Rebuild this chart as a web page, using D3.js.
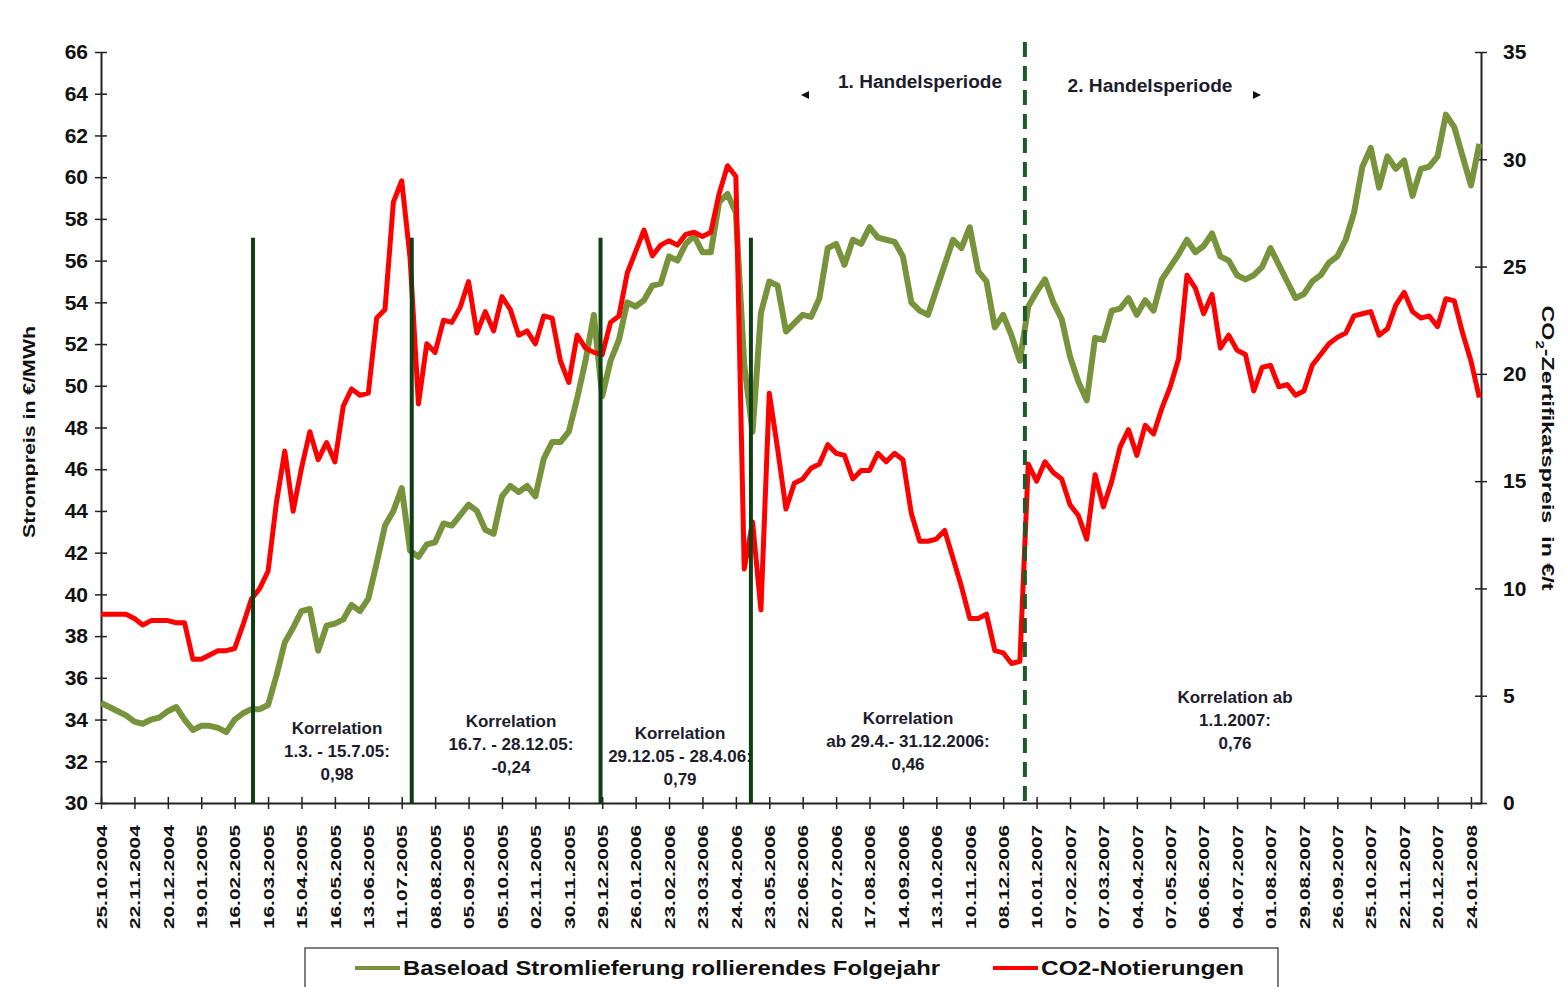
<!DOCTYPE html>
<html>
<head>
<meta charset="utf-8">
<script src="https://cdn.jsdelivr.net/npm/d3@7"></script>
<style>
  body { margin: 0; background: #fff; }
  svg { font-family: "Liberation Sans", Arial, sans-serif; }
</style>
</head>
<body>
<div id="chart"></div>
<script>
// x axis: one label every 20 trading days
const dateLabels = ["25.10.2004","22.11.2004","20.12.2004","19.01.2005","16.02.2005","16.03.2005","15.04.2005","16.05.2005","13.06.2005","11.07.2005","08.08.2005","05.09.2005","05.10.2005","02.11.2005","30.11.2005","29.12.2005","26.01.2006","23.02.2006","23.03.2006","24.04.2006","23.05.2006","22.06.2006","20.07.2006","17.08.2006","14.09.2006","13.10.2006","10.11.2006","08.12.2006","10.01.2007","07.02.2007","07.03.2007","04.04.2007","07.05.2007","06.06.2007","04.07.2007","01.08.2007","29.08.2007","26.09.2007","25.10.2007","22.11.2007","20.12.2007","24.01.2008"];

// weekly readings (every 5 trading days), €/MWh
const baseload = [
  34.8,34.6,34.4,34.2, 33.9,33.8,34.0,34.1, 34.4,34.6,34.0,33.5, 33.7,33.7,33.6,33.4,
  34.0,34.3,34.5,34.5, 34.7,36.1,37.7,38.4, 39.2,39.3,37.3,38.5, 38.6,38.8,39.5,39.2,
  39.8,41.5,43.3,44.0, 45.1,42.1,41.8,42.4, 42.5,43.4,43.3,43.8, 44.3,44.0,43.1,42.9,
  44.7,45.2,44.9,45.2, 44.7,46.5,47.3,47.3, 47.8,49.4,51.2,53.4, 49.5,51.2,52.2,54.0,
  53.8,54.1,54.8,54.9, 56.2,56.0,56.8,57.2, 56.4,56.4,58.8,59.2, 58.3,51.0,47.8,53.5,
  55.0,54.8,52.6,53.0, 53.4,53.3,54.2,56.6, 56.8,55.8,57.0,56.8, 57.6,57.1,57.0,56.9,
  56.2,54.0,53.6,53.4, 54.6,55.8,57.0,56.6, 57.6,55.5,55.0,52.8, 53.4,52.4,51.2,53.8,
  54.5,55.1,54.0,53.2, 51.4,50.2,49.3,52.3, 52.2,53.6,53.7,54.2, 53.4,54.1,53.6,55.1,
  55.7,56.3,57.0,56.4, 56.7,57.3,56.2,56.0, 55.3,55.1,55.3,55.7, 56.6,55.8,55.0,54.2,
  54.4,55.0,55.3,55.9, 56.2,57.0,58.3,60.5, 61.4,59.5,61.0,60.4, 60.8,59.1,60.4,60.5,
  61.0,63.0,62.4,61.0, 59.6,61.6
];

// weekly readings, €/t
const co2 = [
  8.8,8.8,8.8,8.8, 8.6,8.3,8.5,8.5, 8.5,8.4,8.4,6.7, 6.7,6.9,7.1,7.1,
  7.2,8.3,9.5,10.0, 10.8,14.0,16.4,13.6, 15.6,17.3,16.0,16.8, 15.9,18.5,19.3,19.0,
  19.1,22.6,23.0,28.0, 29.0,25.4,18.6,21.4, 21.0,22.5,22.4,23.1, 24.3,21.9,22.9,22.0,
  23.6,23.0,21.8,22.0, 21.4,22.7,22.6,20.6, 19.6,21.8,21.2,21.0, 20.9,22.4,22.7,24.7,
  25.7,26.7,25.5,26.0, 26.2,26.0,26.5,26.6, 26.4,26.6,28.4,29.7, 29.2,10.9,13.1,9.0,
  19.1,16.5,13.7,14.9, 15.1,15.6,15.8,16.7, 16.3,16.2,15.1,15.5, 15.5,16.3,15.9,16.3,
  16.0,13.5,12.2,12.2, 12.3,12.7,11.4,10.1, 8.6,8.6,8.8,7.1, 7.0,6.5,6.6,15.8,
  15.0,15.9,15.4,15.1, 13.9,13.4,12.3,15.3, 13.8,15.0,16.6,17.4, 16.2,17.6,17.2,18.4,
  19.4,20.7,24.6,24.0, 22.8,23.7,21.2,21.8, 21.1,20.9,19.2,20.3, 20.4,19.4,19.5,19.0,
  19.2,20.4,20.9,21.4, 21.7,21.9,22.7,22.8, 22.9,21.8,22.1,23.2, 23.8,22.9,22.6,22.7,
  22.2,23.5,23.4,21.9, 20.6,18.9
];

// trading-day positions of the correlation windows and the period change
const correlationStarts = [91, 186, 299, 389];
const periodBreak = 553;

const correlationNotes = [
  ["Korrelation", "1.3. - 15.7.05:", "0,98"],
  ["Korrelation", "16.7. - 28.12.05:", "-0,24"],
  ["Korrelation", "29.12.05 - 28.4.06:", "0,79"],
  ["Korrelation", "ab 29.4.- 31.12.2006:", "0,46"],
  ["Korrelation ab", "1.1.2007:", "0,76"]
];

const seriesNames = ["Baseload Stromlieferung rollierendes Folgejahr", "CO2-Notierungen"];

const width = 1567, height = 987;
const green = "#77933c", red = "#ff0000", darkGreen = "#0f3d14";

const svg = d3.select("#chart").append("svg")
  .attr("width", width)
  .attr("height", height);

svg.append("rect").attr("width", width).attr("height", height).attr("fill", "#fff");

const x = d3.scaleLinear().domain([0, 826]).range([101, 1481]);
const yLeft = d3.scaleLinear().domain([30, 66]).range([803, 52]);
const yRight = d3.scaleLinear().domain([0, 35]).range([803, 52]);

// axes
const leftAxis = svg.append("g")
  .attr("transform", "translate(101,0)")
  .call(d3.axisLeft(yLeft).tickValues(d3.range(30, 67, 2)).tickSize(6).tickSizeOuter(0).tickPadding(7));
leftAxis.selectAll(".tick line").attr("x1", 6);

const rightAxis = svg.append("g")
  .attr("transform", "translate(1481,0)")
  .call(d3.axisRight(yRight).tickValues(d3.range(0, 36, 5)).tickSize(6).tickSizeOuter(0).tickPadding(16));
rightAxis.selectAll(".tick line").attr("x1", -6);

const bottomAxis = svg.append("g")
  .attr("transform", "translate(0,803)")
  .call(d3.axisBottom(x).tickValues(d3.range(0, 821, 20))
    .tickFormat((d, i) => dateLabels[i]).tickSize(6).tickSizeOuter(0));
bottomAxis.selectAll(".tick line").attr("y1", -6);
bottomAxis.selectAll(".tick text")
  .attr("transform", "rotate(-90)")
  .attr("text-anchor", "end")
  .attr("x", -22).attr("y", 0).attr("dy", "0.35em")
  .attr("textLength", 104).attr("lengthAdjust", "spacingAndGlyphs")
  .style("font-size", "15px");

[leftAxis, rightAxis, bottomAxis].forEach(g => {
  g.selectAll(".domain").attr("stroke", "#222").attr("stroke-width", 2);
  g.selectAll(".tick line").attr("stroke", "#222").attr("stroke-width", 1.5);
  g.selectAll(".tick text").attr("fill", "#111").style("font-weight", "bold");
});
leftAxis.selectAll(".tick text").style("font-size", "21px");
rightAxis.selectAll(".tick text").style("font-size", "21px");

// axis titles
svg.append("text")
  .attr("transform", "translate(35,432) rotate(-90)")
  .attr("text-anchor", "middle")
  .attr("textLength", 212).attr("lengthAdjust", "spacingAndGlyphs")
  .style("font-size", "16px").style("font-weight", "bold").attr("fill", "#111")
  .text("Strompreis in €/MWh");

const rTitle = svg.append("text")
  .attr("transform", "translate(1542,448) rotate(90)")
  .attr("text-anchor", "middle")
  .attr("textLength", 285).attr("lengthAdjust", "spacingAndGlyphs")
  .style("font-size", "17px").style("font-weight", "bold").attr("fill", "#111");
rTitle.append("tspan").text("CO");
rTitle.append("tspan").attr("baseline-shift", "sub").style("font-size", "11px").text("2");
rTitle.append("tspan").text("-Zertifikatspreis\u00a0\u00a0in €/t");

// series
const greenLine = d3.line().x((d, i) => x(i * 5)).y(d => yLeft(d));
const redLine = d3.line().x((d, i) => x(i * 5)).y(d => yRight(d));

svg.append("path").datum(baseload)
  .attr("d", greenLine).attr("fill", "none")
  .attr("stroke", green).attr("stroke-width", 6).attr("stroke-linejoin", "round");

svg.append("path").datum(co2)
  .attr("d", redLine).attr("fill", "none")
  .attr("stroke", red).attr("stroke-width", 5).attr("stroke-linejoin", "round");

// correlation window markers
svg.selectAll(".marker").data(correlationStarts).enter().append("line")
  .attr("class", "marker")
  .attr("x1", d => x(d)).attr("x2", d => x(d))
  .attr("y1", yLeft(57.1)).attr("y2", yLeft(30))
  .attr("stroke", darkGreen).attr("stroke-width", 4);

svg.append("line")
  .attr("x1", x(periodBreak)).attr("x2", x(periodBreak))
  .attr("y1", 42).attr("y2", yLeft(30))
  .attr("stroke", "#1d5a26").attr("stroke-width", 4)
  .attr("stroke-dasharray", "15,9");

// correlation notes
const notePos = [[337, 734], [511, 727], [680, 739], [908, 724], [1235, 703]];
correlationNotes.forEach((lines, k) => {
  const t = svg.append("text")
    .attr("text-anchor", "middle")
    .attr("fill", "#1c1c2c")
    .style("font-size", "17px").style("font-weight", "bold");
  lines.forEach((s, j) => {
    t.append("tspan").attr("x", notePos[k][0]).attr("y", notePos[k][1] + j * 23).text(s);
  });
});

// trading periods
svg.append("text").attr("x", 920).attr("y", 88).attr("text-anchor", "middle")
  .attr("textLength", 164).attr("lengthAdjust", "spacingAndGlyphs")
  .style("font-size", "18px").style("font-weight", "600").attr("fill", "#1c1c2c").text("1. Handelsperiode");
svg.append("text").attr("x", 1150).attr("y", 92).attr("text-anchor", "middle")
  .attr("textLength", 165).attr("lengthAdjust", "spacingAndGlyphs")
  .style("font-size", "18px").style("font-weight", "600").attr("fill", "#1c1c2c").text("2. Handelsperiode");
svg.append("path").attr("d", "M801,95 L809,91 L809,99 Z").attr("fill", "#111");
svg.append("path").attr("d", "M1261,95 L1253,91 L1253,99 Z").attr("fill", "#111");

// legend
const legend = svg.append("g");
legend.append("rect")
  .attr("x", 305).attr("y", 948).attr("width", 973).attr("height", 60)
  .attr("fill", "#fff").attr("stroke", "#555").attr("stroke-width", 1.5);
const legendItems = [
  { name: seriesNames[0], color: green, x0: 355, len: 537 },
  { name: seriesNames[1], color: red, x0: 993, len: 203 }
];
legendItems.forEach(it => {
  legend.append("line")
    .attr("x1", it.x0).attr("x2", it.x0 + 45).attr("y1", 968).attr("y2", 968)
    .attr("stroke", it.color).attr("stroke-width", 4);
  legend.append("text")
    .attr("x", it.x0 + 48).attr("y", 975)
    .attr("textLength", it.len).attr("lengthAdjust", "spacingAndGlyphs")
    .style("font-size", "20px").style("font-weight", "bold").attr("fill", "#111")
    .text(it.name);
});
</script>
</body>
</html>
